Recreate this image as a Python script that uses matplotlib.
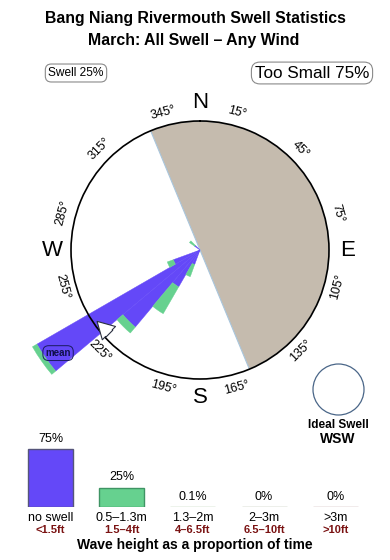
import numpy as np
import matplotlib
matplotlib.use("Agg")
import matplotlib.pyplot as plt
from matplotlib.patches import Circle

plt.rcParams['font.family'] = ['Liberation Sans', 'DejaVu Sans']

# swell rose, one wedge per 10 degree direction bin (ring = 10)
rose_dirs = [205, 215, 225, 235, 245, 310]
rose_small = [1.2, 3.3, 7.8, 14.6, 2.2, 0.5]     # no swell <1.5ft
rose_swell = [1.0, 2.4, 0.6, 0.4, 0.5, 0.5]      # 0.5-1.3m
ring_max = 10
too_small_sector = (337.5, 157.5)
mean_dir = 231
tick_deg = [15, 45, 75, 105, 135, 165, 195, 225, 255, 285, 315, 345]

# wave height distribution
height_pct = [75, 25, 0.1, 0, 0]
height_pct_txt = ["75%", "25%", "0.1%", "0%", "0%"]
height_m = ["no swell", "0.5\u20131.3m", "1.3\u20132m", "2\u20133m", ">3m"]
height_ft = ["<1.5ft", "1.5\u20134ft", "4\u20136.5ft", "6.5\u201310ft", ">10ft"]

blue = "#6448f8"
green = "#66d18f"
tan = "#c5bbae"
bar_cols = [blue, green, "#b8d8b0", "#c8ccb4", "#d4b8b8"]
bar_edges = ["#55557a", "#3f9464", "#a4c49c", "#a8ae94", "#b89a9a"]
ft_red = "#7a1212"

fig = plt.figure(figsize=(3.9, 5.6), dpi=100)

# background axes in pixel coordinates for the free text
bg = fig.add_axes([0, 0, 1, 1])
bg.set_xlim(0, 390)
bg.set_ylim(560, 0)
bg.axis("off")

bg.text(195, 19, "Bang Niang Rivermouth Swell Statistics", ha="center", va="center",
        fontsize=11.4, fontweight="bold")
bg.text(194, 41, "March: All Swell \u2013 Any Wind", ha="center", va="center",
        fontsize=11.4, fontweight="bold")
bg.text(76, 73, "Swell 25%", ha="center", va="center", fontsize=8.6,
        bbox=dict(boxstyle="round,pad=0.25,rounding_size=0.5", fc="white", ec="#8a8a8a", lw=0.8))
bg.text(312, 73, "Too Small 75%", ha="center", va="center", fontsize=12.3,
        bbox=dict(boxstyle="round,pad=0.2,rounding_size=0.5", fc="white", ec="#8a8a8a", lw=0.8))

bg.add_patch(Circle((338.5, 389.5), 25.5, fc="none", ec="#4a6688", lw=0.9))
bg.text(338, 425, "Ideal Swell", ha="center", va="center", fontsize=8.5, fontweight="bold")
bg.text(338, 439, "WSW", ha="center", va="center", fontsize=10, fontweight="bold")

# rose
ax = fig.add_axes([71 / 390, 181 / 560, 258 / 390, 258 / 560], projection="polar")
ax.set_theta_zero_location("N")
ax.set_theta_direction(-1)
ax.set_ylim(0, ring_max)
ax.set_yticks([])
ax.grid(False)
ax.spines["polar"].set_linewidth(1.2)
ax.set_xticks(np.deg2rad(tick_deg))
ax.set_xticklabels([])
ax.tick_params(axis="x", direction="inout", length=5, width=0.8)

s0, s1 = too_small_sector
span = (s1 - s0) % 360
ax.bar(np.deg2rad(s0 + span / 2), ring_max, width=np.deg2rad(span), bottom=0,
       color=tan, edgecolor="#a9c6dd", lw=0.8, zorder=1)

th = np.deg2rad(rose_dirs)
w = np.deg2rad(10)
ax.bar(th, rose_small, width=w, bottom=0, color=blue, edgecolor=blue, lw=0.3,
       zorder=2, clip_on=False)
ax.bar(th, rose_swell, width=w, bottom=rose_small, color=green, edgecolor=green, lw=0.3,
       zorder=2, clip_on=False)

for d in tick_deg:
    rot = ((-d + 90) % 180) - 90
    ax.text(np.deg2rad(d), 11.05, f"{d}\u00b0", rotation=rot, ha="center", va="center",
            fontsize=9, rotation_mode="anchor")
for lab, d in zip("NESW", [0, 90, 180, 270]):
    ax.text(np.deg2rad(d), 11.45, lab, ha="center", va="center", fontsize=16)

ax.annotate("", xy=(np.deg2rad(mean_dir + 5.5), 9.75), xytext=(np.deg2rad(mean_dir - 5), 9.55),
            arrowprops=dict(arrowstyle="simple,head_length=0.8,head_width=0.9,tail_width=0.45",
                            fc="white", ec="#2a3040", lw=0.8, mutation_scale=15),
            zorder=4, annotation_clip=False)
ax.text(np.deg2rad(mean_dir + 3), 13.6, "mean", ha="center", va="center", fontsize=7,
        fontweight="bold", color="#10104a", zorder=5,
        bbox=dict(boxstyle="round,pad=0.25,rounding_size=0.6", fc="none", ec="#1a1a60", lw=0.7))

# wave height bars
bx = fig.add_axes([14.9 / 390, 53 / 560, 356 / 390, 62 / 560])
x = np.arange(len(height_pct))
bx.bar(x, height_pct, width=0.63, color=bar_cols, edgecolor=bar_edges, lw=1.0)
bx.set_xlim(-0.5, 4.5)
bx.set_ylim(0, 80)
bx.axis("off")
for i, h in enumerate(height_pct):
    bx.annotate(height_pct_txt[i], (i, h), xytext=(0, 3), textcoords="offset points",
                ha="center", va="bottom", fontsize=9, annotation_clip=False)
    bx.annotate(height_m[i], (i, 0), xytext=(0, -8), textcoords="offset points",
                ha="center", va="center", fontsize=9, annotation_clip=False)
    bx.annotate(height_ft[i], (i, 0), xytext=(0, -16.5), textcoords="offset points",
                ha="center", va="center", fontsize=8, fontweight="bold", color=ft_red,
                annotation_clip=False)

bg.text(195, 545, "Wave height as a proportion of time", ha="center", va="center",
        fontsize=10, fontweight="bold")

fig.savefig("out.png", dpi=100)
